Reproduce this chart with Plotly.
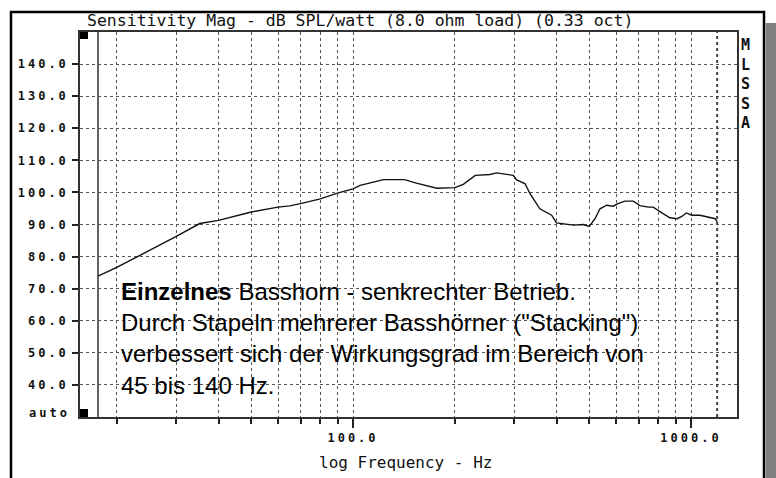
import math
import plotly.graph_objects as go

# ---- data ----
freq_hz = [17.6, 20, 30, 35.2, 40, 50, 60, 65, 70, 80, 90, 100, 105, 123, 142, 154,
           177, 200, 212, 230, 254, 266, 298, 305, 323, 334, 357, 387, 400, 449,
           480, 500, 520, 538, 563, 589, 608, 638, 675, 706, 748, 773, 818, 866,
           910, 939, 969, 1005, 1063, 1142, 1180, 1195]
spl_db = [73.9, 76.6, 86.3, 90.3, 91.3, 93.9, 95.4, 95.8, 96.5, 98.0, 99.8, 101.1,
          102.2, 104.0, 104.0, 102.9, 101.3, 101.5, 102.5, 105.3, 105.6, 106.1,
          105.3, 103.9, 102.7, 99.6, 94.9, 92.9, 90.5, 89.8, 90.0, 89.4, 91.8,
          94.9, 96.0, 95.7, 96.5, 97.3, 97.3, 95.9, 95.4, 95.4, 93.7, 92.1, 91.8,
          92.5, 93.6, 92.9, 92.9, 92.3, 91.8, 90.8]
cursor_left_hz = [17.6]
cursor_right_hz = [1195]

y_tick_vals = [40, 50, 60, 70, 80, 90, 100, 110, 120, 130, 140]
y_tick_text = ["40.0", "50.0", "60.0", "70.0", "80.0", "90.0", "100.0",
               "110.0", "120.0", "130.0", "140.0"]
x_tick_vals = [100, 1000]
x_tick_text = ["100.0", "1000.0"]
x_minor_vals = [20, 30, 40, 50, 60, 70, 80, 90, 200, 300, 400, 500, 600, 700, 800, 900]

title_text = "Sensitivity Mag - dB SPL/watt (8.0 ohm load) (0.33 oct)"
x_title = "log Frequency - Hz"
side_label = "M<br>L<br>S<br>S<br>A"
note_text = ("<b>Einzelnes</b> Basshorn - senkrechter Betrieb.<br>"
             "Durch Stapeln mehrerer Basshörner (\"Stacking\")<br>"
             "verbessert sich der Wirkungsgrad im Bereich von<br>"
             "45 bis 140 Hz.")

MONO = "DejaVu Sans Mono"
SP = '<span style="letter-spacing:3px">%s</span>'

# ---- figure ----
W, H = 776, 478
L, R, T, B = 80, 39, 32, 61
pw, ph = W - L - R, H - T - B

def px_x(px):
    return (px - L) / pw

def px_y(py):
    return (H - B - py) / ph

fig = go.Figure()

fig.add_trace(go.Scatter(x=cursor_left_hz * 2, y=[30, 150], mode="lines",
                         line=dict(color="#333333", width=1.5), hoverinfo="skip",
                         showlegend=False))
fig.add_trace(go.Scatter(x=cursor_right_hz * 2, y=[30, 150], mode="lines",
                         line=dict(color="#444444", width=2, dash="dot"),
                         hoverinfo="skip", showlegend=False))
fig.add_trace(go.Scatter(x=freq_hz, y=spl_db, mode="lines",
                         line=dict(color="#111111", width=1.4),
                         showlegend=False))

grid = dict(showgrid=True, gridcolor="#555555", gridwidth=1, griddash="dot")

fig.update_xaxes(type="log", range=[1.1923, 3.1361], tickmode="array",
                 tickvals=x_tick_vals, ticktext=[SP % t for t in x_tick_text],
                 ticks="outside", ticklen=9, tickcolor="#222", tickwidth=1.5,
                 tickfont=dict(family=MONO, size=12, color="#111", weight="bold"),
                 showline=True, mirror=True, linecolor="#333", linewidth=1.5,
                 zeroline=False,
                 minor=dict(tickmode="array", tickvals=x_minor_vals, ticks="outside",
                            ticklen=5, tickcolor="#222", tickwidth=1.5,
                            showgrid=True, gridcolor="#555555", griddash="dot",
                            gridwidth=1),
                 **grid)
fig.update_yaxes(range=[30, 150], tickmode="array", tickvals=y_tick_vals,
                 ticktext=[SP % t for t in y_tick_text],
                 ticks="outside", ticklen=6, tickcolor="#222", tickwidth=1.5,
                 ticklabelstandoff=1,
                 tickfont=dict(family=MONO, size=12, color="#111", weight="bold"),
                 showline=True, mirror=True, linecolor="#333", linewidth=1.5,
                 zeroline=False, **grid)

shapes = [
    # outer frame
    dict(type="rect", xref="paper", yref="paper", x0=px_x(11), x1=px_x(764),
         y0=px_y(500), y1=px_y(12), line=dict(color="black", width=2.5),
         fillcolor="rgba(0,0,0,0)", layer="above"),
    # shadow
    dict(type="rect", xref="paper", yref="paper", x0=px_x(765.5), x1=px_x(790),
         y0=px_y(500), y1=px_y(23), line=dict(width=0), fillcolor="#808080",
         layer="above"),
    # corner markers
    dict(type="rect", xref="paper", yref="paper", x0=0, x1=px_x(88),
         y0=px_y(39), y1=1, line=dict(width=0), fillcolor="black", layer="above"),
    dict(type="rect", xref="paper", yref="paper", x0=0, x1=px_x(88),
         y0=0, y1=px_y(409), line=dict(width=0), fillcolor="black", layer="above"),
]

annotations = [
    dict(text=title_text, xref="paper", yref="paper", x=px_x(85), y=px_y(20.5),
         xanchor="left", yanchor="middle", showarrow=False,
         font=dict(family=MONO, size=16.5, color="#111")),
    dict(text=x_title, xref="paper", yref="paper", x=px_x(405.5), y=px_y(462),
         xanchor="center", yanchor="middle", showarrow=False,
         font=dict(family=MONO, size=16, color="#111")),
    dict(text=side_label, xref="paper", yref="paper", x=px_x(745), y=px_y(84),
         xanchor="center", yanchor="middle", showarrow=False,
         font=dict(family=MONO, size=15, color="#111", weight="bold")),
    dict(text=SP % "auto", xref="paper", yref="paper", x=px_x(72), y=px_y(413),
         xanchor="right", yanchor="middle", showarrow=False,
         font=dict(family=MONO, size=12, color="#111", weight="bold")),
    dict(text=note_text, xref="paper", yref="paper", x=px_x(119), y=px_y(276),
         xanchor="left", yanchor="top", align="left", showarrow=False,
         font=dict(family="Liberation Sans", size=24, color="black")),
]

fig.update_layout(width=W, height=H, margin=dict(l=L, r=R, t=T, b=B),
                  paper_bgcolor="white", plot_bgcolor="white",
                  shapes=shapes, annotations=annotations, showlegend=False)

fig.write_html("out.html", config={"displayModeBar": False},
               post_script="document.body.style.margin='0';"
                           "document.body.style.padding='0';")
